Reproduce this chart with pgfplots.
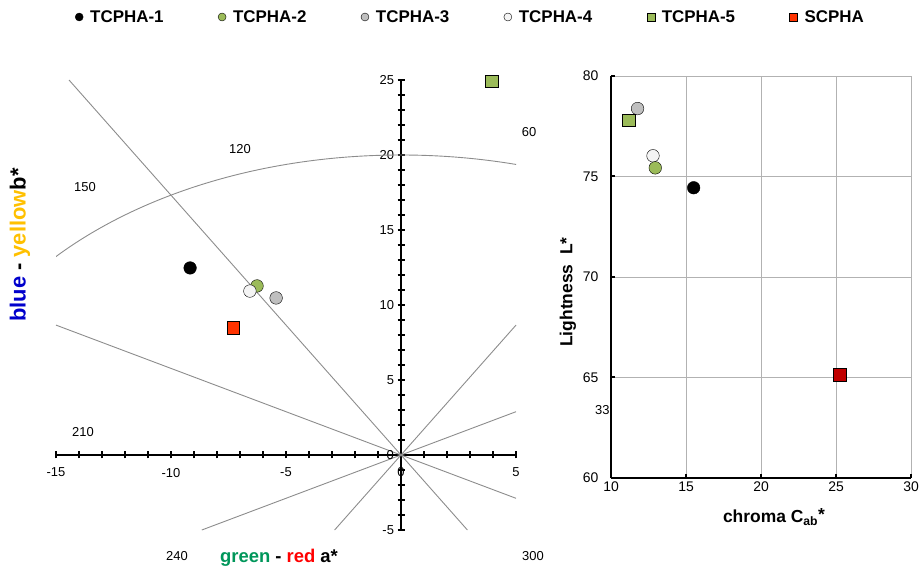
\documentclass[border=0pt]{standalone}
\usepackage{pgfplots}
\pgfplotsset{compat=1.18}
\usepackage{fontspec}
\setmainfont{Liberation Sans}

\definecolor{cgreen}{RGB}{155,187,89}
\definecolor{cgray}{RGB}{191,191,191}
\definecolor{cwhite}{RGB}{244,244,244}
\definecolor{cred}{RGB}{255,51,0}
\definecolor{cdred}{RGB}{192,0,0}
\definecolor{hueline}{RGB}{140,140,140}
\definecolor{lblgreen}{RGB}{0,150,90}
\definecolor{lblblue}{RGB}{0,0,204}
\definecolor{lblyellow}{RGB}{255,192,0}
\definecolor{lblred}{RGB}{255,0,0}

\pgfplotsset{
  smp/.style={only marks, mark options={draw=black, line width=1.1bp}},
  s1/.style={smp, mark=*, mark size=6.3bp, mark options={fill=black}},
  s2/.style={smp, mark=*, mark size=6.3bp, mark options={fill=cgreen}},
  s3/.style={smp, mark=*, mark size=6.3bp, mark options={fill=cgray}},
  s4/.style={smp, mark=*, mark size=6.3bp, mark options={fill=cwhite}},
  s5/.style={smp, mark=square*, mark size=6.2bp, mark options={fill=cgreen}},
}

\begin{document}
\begin{tikzpicture}
\useasboundingbox (0bp,0bp) rectangle (922bp,566bp);

% CIELAB a*b* plane
\begin{scope}[shift={(56bp,36bp)}]
\begin{axis}[
  at={(0pt,0pt)}, anchor=south west,
  width=460bp, height=450bp, scale only axis,
  xmin=-15, xmax=5, ymin=-5, ymax=25,
  axis lines=middle,
  axis line style={black, line width=2bp, -},
  xtick={-15,-10,-5,0,5}, ytick={-5,0,5,10,15,20,25},
  minor x tick num=4, minor y tick num=4,
  tick align=center,
  major tick length=7bp, minor tick length=7bp,
  tick style={black, line width=1.6bp},
  tick label style={font=\fontsize{13}{13}\selectfont},
  xticklabel style={yshift=-6bp},
  /pgf/number format/assume math mode=true,
  clip=false,
  legend columns=6,
  legend style={at={(axis description cs:0.0413,1.14)}, anchor=west,
    draw=none, fill=none, inner sep=0pt,
    font=\bfseries\fontsize{17}{17}\selectfont,
    nodes={inner sep=1bp},
    /tikz/every odd column/.append style={column sep=6bp},
    /tikz/every even column/.append style={column sep=53.5bp}},
  legend image code/.code={\draw[#1, mark size=4bp] plot coordinates {(0bp,0bp)};},
]
% hue angle lines through the origin
\draw[hueline, line width=0.9bp] (axis cs:-14.434,25) -- (axis cs:2.887,-5);
\draw[hueline, line width=0.9bp] (axis cs:-15,8.660) -- (axis cs:5,-2.887);
\draw[hueline, line width=0.9bp] (axis cs:-8.660,-5) -- (axis cs:5,2.887);
\draw[hueline, line width=0.9bp] (axis cs:-2.887,-5) -- (axis cs:5,8.660);
% chroma circle C*ab = 20
\begin{scope}
  \clip (axis cs:-15,-5) rectangle (axis cs:5,25);
  \draw[hueline, line width=0.9bp] (axis cs:0,0) ellipse [x radius=20, y radius=20];
\end{scope}
% zero labels at the origin
\node[anchor=east, inner sep=0pt, font=\fontsize{13}{13}\selectfont, xshift=-7bp] at (axis cs:0,0) {0};
\node[anchor=north, inner sep=0pt, font=\fontsize{13}{13}\selectfont, yshift=-12.5bp] at (axis cs:0,0) {0};
\addplot[s1] coordinates {(-9.17,12.47)};
\addlegendentry{TCPHA-1}
\addplot[s2] coordinates {(-6.26,11.27)};
\addlegendentry{TCPHA-2}
\addplot[s3] coordinates {(-5.43,10.47)};
\addlegendentry{TCPHA-3}
\addplot[s4] coordinates {(-6.57,10.93)};
\addlegendentry{TCPHA-4}
\addplot[s5] coordinates {(3.94,24.93)};
\addlegendentry{TCPHA-5}
\addplot[smp, mark=square*, mark size=6.4bp, mark options={fill=cred}] coordinates {(-7.30,8.47)};
\addlegendentry{SCPHA}
\end{axis}
\end{scope}

% hue angle labels
\begin{scope}[every node/.style={font=\fontsize{13}{13}\selectfont, inner sep=0pt}]
\node at (529bp,434bp) {60};
\node at (240bp,417bp) {120};
\node at (85bp,379bp) {150};
\node at (83bp,134bp) {210};
\node at (177bp,10bp) {240};
\node at (533bp,10bp) {300};
\node[anchor=west] at (595bp,156bp) {330};
\end{scope}

% axis titles of the a*b* plane
\node[anchor=base, inner sep=0pt, font=\bfseries\fontsize{18.5}{18.5}\selectfont] at (279bp,4bp)
  {\textcolor{lblgreen}{green} - \textcolor{lblred}{red} a*};
\node[rotate=90, inner sep=0pt, font=\bfseries\fontsize{22}{22}\selectfont] at (20bp,321bp)
  {\textcolor{lblblue}{blue} - \textcolor{lblyellow}{yellow}b*};

% lightness versus chroma
\begin{scope}[shift={(611bp,88bp)}]
\begin{axis}[
  at={(0pt,0pt)}, anchor=south west,
  width=300bp, height=402bp, scale only axis,
  xmin=10, xmax=30, ymin=60, ymax=80,
  xtick={10,15,...,30}, ytick={60,65,...,80},
  axis x line*=bottom, axis y line*=left,
  axis line style={black, line width=2.2bp, -},
  grid=major, grid style={color=black!30, line width=0.8bp},
  tick align=inside, major tick length=4bp,
  tick style={black, line width=2bp},
  axis background/.style={fill=white},
  tick label style={font=\fontsize{14}{14}\selectfont},
  yticklabel style={xshift=-9bp},
  /pgf/number format/assume math mode=true,
  clip=false,
]
\addplot[s3] coordinates {(11.77,78.38)};
\addplot[s4] coordinates {(12.80,76.03)};
\addplot[s1] coordinates {(15.51,74.44)};
\addplot[s2] coordinates {(12.95,75.43)};
\addplot[s5] coordinates {(11.17,77.80)};
\addplot[smp, mark=square*, mark size=6.4bp, mark options={fill=cdred}] coordinates {(25.24,65.14)};
\end{axis}
\end{scope}

\node[rotate=90, inner sep=0pt, font=\bfseries\fontsize{17.5}{17.5}\selectfont] at (568bp,274bp)
  {Lightness\ \ L*};
\node[anchor=base, inner sep=0pt, font=\bfseries\fontsize{17.5}{17.5}\selectfont] at (774bp,43bp)
  {chroma C\textsubscript{ab}\raisebox{2bp}{*}};
\end{tikzpicture}
\end{document}
